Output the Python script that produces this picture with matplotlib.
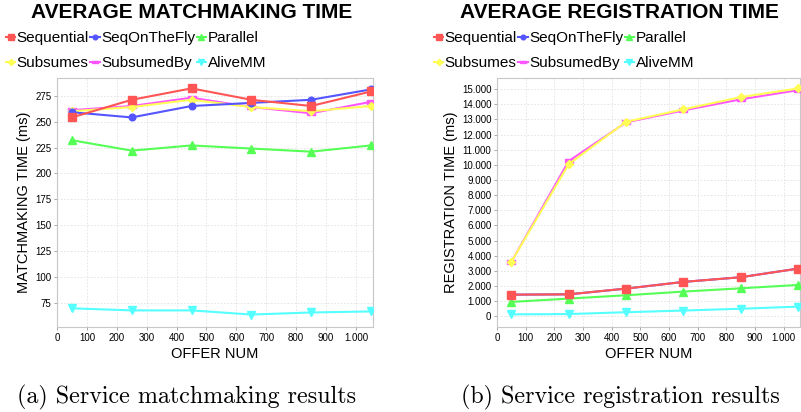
import matplotlib
matplotlib.use("Agg")
import matplotlib.pyplot as plt
from matplotlib.ticker import FuncFormatter, MultipleLocator

plt.rcParams['font.family'] = ['Liberation Sans', 'DejaVu Sans']

# offer counts on the x axis
offer_num = [50, 250, 450, 650, 850, 1050]

series_names = ['Sequential', 'SeqOnTheFly', 'Parallel', 'Subsumes', 'SubsumedBy', 'AliveMM']

# average matchmaking time (ms)
match_sequential = [254, 271, 282, 271, 265, 279]
match_seqonthefly = [259, 254, 265, 268, 271, 281]
match_parallel = [232, 222, 227, 224, 221, 227]
match_subsumes = [260, 264, 271, 264, 260, 265]
match_subsumedby = [261, 265, 273, 264, 258, 269]
match_alivemm = [70, 68, 68, 64, 66, 67]

# average registration time (ms)
reg_sequential = [1430, 1450, 1830, 2270, 2580, 3150]
reg_seqonthefly = [1430, 1450, 1830, 2270, 2580, 3150]
reg_parallel = [950, 1170, 1390, 1630, 1850, 2070]
reg_subsumes = [3590, 10040, 12840, 13660, 14470, 15040]
reg_subsumedby = [3590, 10240, 12800, 13590, 14320, 14930]
reg_alivemm = [130, 150, 270, 380, 500, 640]

# jfreechart default paints and shapes
colors = ['#FF5555', '#5555FF', '#55FF55', '#FFFF55', '#FF55FF', '#55FFFF']
hrect = [(-1, -0.5), (1, -0.5), (1, 0.5), (-1, 0.5), (-1, -0.5)]
markers = ['s', 'o', '^', 'D', hrect, 'v']
msizes = [5.5, 4.8, 6, 4.5, 6, 6]


def dot_thousands(v, pos):
    return f'{int(round(v)):,}'.replace(',', '.')


def draw_panel(ax, values, ylim, ystep):
    for i, (name, ys) in enumerate(zip(series_names, values)):
        ax.plot(offer_num, ys, color=colors[i], marker=markers[i], markersize=msizes[i],
                linewidth=1.5, label=name, zorder=10 - i)
    ax.set_xlim(0, 1057)
    ax.set_ylim(*ylim)
    ax.xaxis.set_major_locator(MultipleLocator(100))
    ax.yaxis.set_major_locator(MultipleLocator(ystep))
    ax.xaxis.set_major_formatter(FuncFormatter(dot_thousands))
    ax.yaxis.set_major_formatter(FuncFormatter(dot_thousands))
    ax.grid(True, color='#e2e2e2', linestyle=(0, (2, 2)), linewidth=0.6)
    ax.set_axisbelow(True)
    for sp in ax.spines.values():
        sp.set_color('#c8c8c8')
        sp.set_linewidth(0.8)
    ax.tick_params(length=2, width=0.6, color='#999999', labelsize=7, pad=2)
    ax.set_xlabel('OFFER NUM', fontsize=10.5, labelpad=3)


fig = plt.figure(figsize=(8.01, 4.12), dpi=100)
ax1 = fig.add_axes([57 / 801, 1 - 327 / 412, 316 / 801, 249 / 412])
ax2 = fig.add_axes([497 / 801, 1 - 327 / 412, 303 / 801, 249 / 412])

draw_panel(ax1, [match_sequential, match_seqonthefly, match_parallel,
                 match_subsumes, match_subsumedby, match_alivemm], (52, 292), 25)
draw_panel(ax2, [reg_sequential, reg_seqonthefly, reg_parallel,
                 reg_subsumes, reg_subsumedby, reg_alivemm], (-705, 15730), 1000)

ax1.set_ylabel('MATCHMAKING TIME (ms)', fontsize=10.5, labelpad=3)
ax2.set_ylabel('REGISTRATION TIME (ms)', fontsize=10.5, labelpad=3)

fig.text(192 / 801, 1 - 13 / 412, 'AVERAGE MATCHMAKING TIME', ha='center', va='center',
         fontsize=15, fontweight='bold')
fig.text(619 / 801, 1 - 13 / 412, 'AVERAGE REGISTRATION TIME', ha='center', va='center',
         fontsize=15, fontweight='bold')

# legend rows: matplotlib fills columns first, so reorder
order = [0, 3, 1, 4, 2, 5]
for ax, x0 in [(ax1, 6), (ax2, 434)]:
    handles, labels = ax.get_legend_handles_labels()
    ax.legend([handles[k] for k in order], [labels[k] for k in order],
              loc='upper left', bbox_to_anchor=(x0 / 801, 1 - 31 / 412),
              bbox_transform=fig.transFigure, ncol=3, frameon=False, fontsize=11,
              handlelength=0.6, handletextpad=0.1, columnspacing=0.1,
              borderpad=0, borderaxespad=0, labelspacing=0.75, markerscale=0.7)

fig.text(187 / 801, 1 - 397 / 412, '(a) Service matchmaking results', ha='center', va='center',
         fontsize=17.3, family='cmr10')
fig.text(620 / 801, 1 - 397 / 412, '(b) Service registration results', ha='center', va='center',
         fontsize=17.3, family='cmr10')

fig.savefig('out.png', dpi=100)
